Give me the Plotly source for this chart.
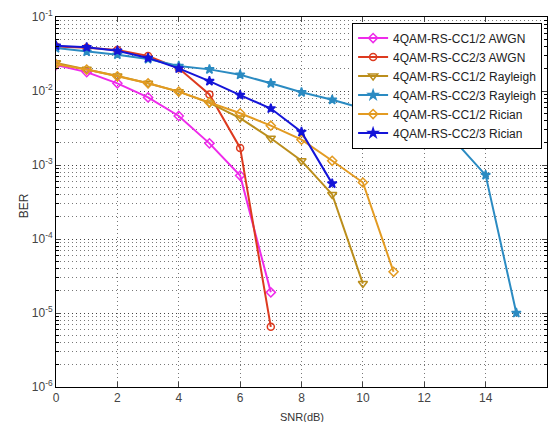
import plotly.graph_objects as go

snr_awgn = [0, 1, 2, 3, 4, 5, 6, 7]
ber_awgn_cc12 = [0.0224, 0.018, 0.0127, 0.0082, 0.0046, 0.00196, 0.00072, 1.9e-5]
ber_awgn_cc23 = [0.040, 0.0385, 0.0358, 0.0297, 0.0203, 0.009, 0.0017, 6.5e-6]

snr_ray12 = [0, 1, 2, 3, 4, 5, 6, 7, 8, 9, 10]
ber_ray_cc12 = [0.024, 0.0196, 0.016, 0.0127, 0.0098, 0.0069, 0.0043, 0.0023, 0.00114, 0.0004, 2.5e-5]

snr_ray23 = [0, 1, 2, 3, 4, 5, 6, 7, 8, 9, 10, 11, 12, 13, 14, 15]
ber_ray_cc23 = [0.038, 0.034, 0.031, 0.027, 0.0218, 0.0196, 0.0166, 0.0127, 0.0096, 0.0076,
                0.0058, 0.0042, 0.0031, 0.0021, 0.00073, 1.0e-5]

snr_ric12 = [0, 1, 2, 3, 4, 5, 6, 7, 8, 9, 10, 11]
ber_ric_cc12 = [0.023, 0.0195, 0.0158, 0.0127, 0.0098, 0.007, 0.005, 0.0034, 0.0022, 0.00114, 0.00058, 3.6e-5]

snr_ric23 = [0, 1, 2, 3, 4, 5, 6, 7, 8, 9]
ber_ric_cc23 = [0.041, 0.039, 0.035, 0.028, 0.0202, 0.0136, 0.0088, 0.0058, 0.0028, 0.00056]

series = [
    ("4QAM-RS-CC1/2 AWGN", snr_awgn, ber_awgn_cc12, "#EE2BEA", "diamond-open", 7),
    ("4QAM-RS-CC2/3 AWGN", snr_awgn, ber_awgn_cc23, "#DD3A1F", "circle-open", 7),
    ("4QAM-RS-CC1/2 Rayleigh", snr_ray12, ber_ray_cc12, "#BB8E1C", "triangle-down-open", 8),
    ("4QAM-RS-CC2/3 Rayleigh", snr_ray23, ber_ray_cc23, "#2B8BC2", "star", 7),
    ("4QAM-RS-CC1/2 Rician", snr_ric12, ber_ric_cc12, "#E39B22", "diamond-open", 7),
    ("4QAM-RS-CC2/3 Rician", snr_ric23, ber_ric_cc23, "#1414D8", "star", 7),
]

x_ticks = [0, 2, 4, 6, 8, 10, 12, 14, 16]
y_ticks = [1e-6, 1e-5, 1e-4, 1e-3, 1e-2, 1e-1]
y_ticktext = ["10<sup>-6</sup>", "10<sup>-5</sup>", "10<sup>-4</sup>",
              "10<sup>-3</sup>", "10<sup>-2</sup>", "10<sup>-1</sup>"]

fig = go.Figure()
for name, x, y, color, sym, sz in series:
    fig.add_trace(go.Scatter(
        x=x, y=y, name=name, mode="lines+markers",
        line=dict(color=color, width=2),
        marker=dict(symbol=sym, size=sz, color=color, line=dict(color=color, width=1.5)),
    ))

gridc = "rgba(30,30,30,0.6)"
fig.update_layout(
    width=553, height=422,
    margin=dict(l=56, r=6, t=17, b=35, autoexpand=False),
    paper_bgcolor="white", plot_bgcolor="white",
    font=dict(family="Liberation Sans", size=12, color="#333333"),
    showlegend=True,
    legend=dict(
        x=0.99, xanchor="right", y=0.985, yanchor="top",
        bgcolor="white", bordercolor="black", borderwidth=1,
        font=dict(family="Liberation Sans", size=12, color="#222222"),
        tracegroupgap=0, itemwidth=30,
    ),
    xaxis=dict(
        range=[0, 16], tickvals=x_ticks, ticks="inside", ticklen=5,
        showline=True, linecolor="black", linewidth=1, mirror="ticks",
        showgrid=True, gridcolor=gridc, griddash="1px,3px", gridwidth=1,
        zeroline=False, automargin=False,
        tickfont=dict(size=12, color="#444444"),
    ),
    yaxis=dict(
        type="log", range=[-6, -1], tickvals=y_ticks, ticktext=y_ticktext,
        ticks="inside", ticklen=5,
        showline=True, linecolor="black", linewidth=1, mirror="ticks",
        showgrid=True, gridcolor=gridc, griddash="1px,3px", gridwidth=1,
        minor=dict(dtick="D1", showgrid=True, gridcolor=gridc, griddash="1px,3px",
                   ticks="inside", ticklen=3, tickcolor="black"),
        zeroline=False, automargin=False,
        tickfont=dict(size=12, color="#444444"),
    ),
    annotations=[
        dict(text="SNR(dB)", xref="paper", yref="paper", x=0.5, y=-0.06,
             xanchor="center", yanchor="top", showarrow=False,
             font=dict(size=11, color="#333333")),
        dict(text="BER", xref="paper", yref="paper", x=-0.066, y=0.49,
             xanchor="center", yanchor="middle", showarrow=False, textangle=-90,
             font=dict(size=12, color="#333333")),
    ],
)

fig.write_html("out.html", config={"displayModeBar": False},
               post_script="document.body.style.margin='0';document.body.style.overflow='hidden';")
